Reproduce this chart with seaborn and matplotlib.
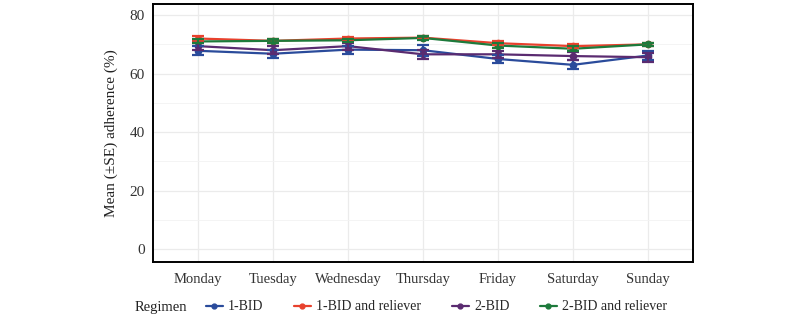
import numpy as np
import pandas as pd
import matplotlib
matplotlib.use("Agg")
import matplotlib.pyplot as plt
import seaborn as sns
from matplotlib.lines import Line2D

days = ["Monday", "Tuesday", "Wednesday", "Thursday", "Friday", "Saturday", "Sunday"]
regimens = ["1-BID", "1-BID and reliever", "2-BID", "2-BID and reliever"]
bid1 = [67.8, 66.8, 68.2, 68.0, 65.0, 63.0, 66.2]
bid1_se = [1.5, 1.4, 1.4, 1.9, 1.5, 1.5, 1.6]
bid1_rel = [72.0, 71.2, 72.0, 72.3, 70.4, 69.4, 70.0]
bid1_rel_se = [0.7, 0.6, 0.6, 0.6, 0.6, 0.7, 0.6]
bid2 = [69.4, 68.0, 69.4, 66.6, 66.6, 66.0, 65.6]
bid2_se = [1.2, 1.3, 1.2, 1.6, 1.3, 1.3, 1.5]
bid2_rel = [71.0, 71.2, 71.4, 72.2, 69.6, 68.5, 70.0]
bid2_rel_se = [0.7, 0.7, 0.6, 0.6, 0.7, 0.8, 0.6]

colors = ["#2A4B9B", "#E8412D", "#5A2B70", "#1D7A3B"]
means = [bid1, bid1_rel, bid2, bid2_rel]
ses = [bid1_se, bid1_rel_se, bid2_se, bid2_rel_se]

rows = []
for r, m, s in zip(regimens, means, ses):
    for d, v, e in zip(days, m, s):
        rows.append({"Day": d, "Regimen": r, "Mean": v, "SE": e})
df = pd.DataFrame(rows)

sns.set_theme(style="white")
plt.rcParams["font.family"] = ["Liberation Serif", "DejaVu Serif"]

fig = plt.figure(figsize=(8, 3.14), dpi=100)
ax = fig.add_axes([153/800, 1 - 262/314, 540/800, 258/314])

sns.lineplot(data=df, x="Day", y="Mean", hue="Regimen", hue_order=regimens,
             palette=colors, marker="o", markersize=5.5, markeredgewidth=0,
             linewidth=1.6, sort=False, legend=False, ax=ax)
xpos = {d: i for i, d in enumerate(days)}
for r, c in zip(regimens, colors):
    sub = df[df["Regimen"] == r]
    ax.errorbar([xpos[d] for d in sub["Day"]], sub["Mean"], yerr=sub["SE"],
                fmt="none", ecolor=c, elinewidth=1.6, capsize=4, capthick=1.6, zorder=3)

ax.set_xlim(-0.6, 6.6)
ax.set_ylim(-4.4, 83.8)
ax.set_yticks([0, 20, 40, 60, 80])
ax.set_yticks([10, 30, 50, 70], minor=True)
ax.grid(True, which="major", color="#EBEBEB", linewidth=0.9)
ax.grid(True, which="minor", axis="y", color="#F3F3F3", linewidth=0.6)
ax.set_axisbelow(True)
for sp in ax.spines.values():
    sp.set_color("black")
    sp.set_linewidth(1.4)
ax.set_xlabel("")
ax.set_ylabel("Mean (±SE) adherence (%)", fontsize=11, color="#222222", labelpad=8)
ax.tick_params(axis="x", which="both", length=0, labelsize=10.5, labelcolor="#333333", pad=8)
ax.tick_params(axis="y", which="both", length=0, labelsize=11, labelcolor="#333333", pad=6)

handles = [Line2D([0], [0], color=c, marker="o", markersize=3.5, linewidth=1.6) for c in colors]
fig.text(135/800, 1 - 307/314, "Regimen", fontsize=10.5, va="center", ha="left", color="#222222")
fig.legend(handles, regimens, loc="center left", bbox_to_anchor=(206/800, 1 - 307/314),
           ncol=4, frameon=False, fontsize=10, handlelength=1.2, handletextpad=0.4,
           columnspacing=2.2, borderaxespad=0, borderpad=0)

fig.savefig("out.png", dpi=100)
